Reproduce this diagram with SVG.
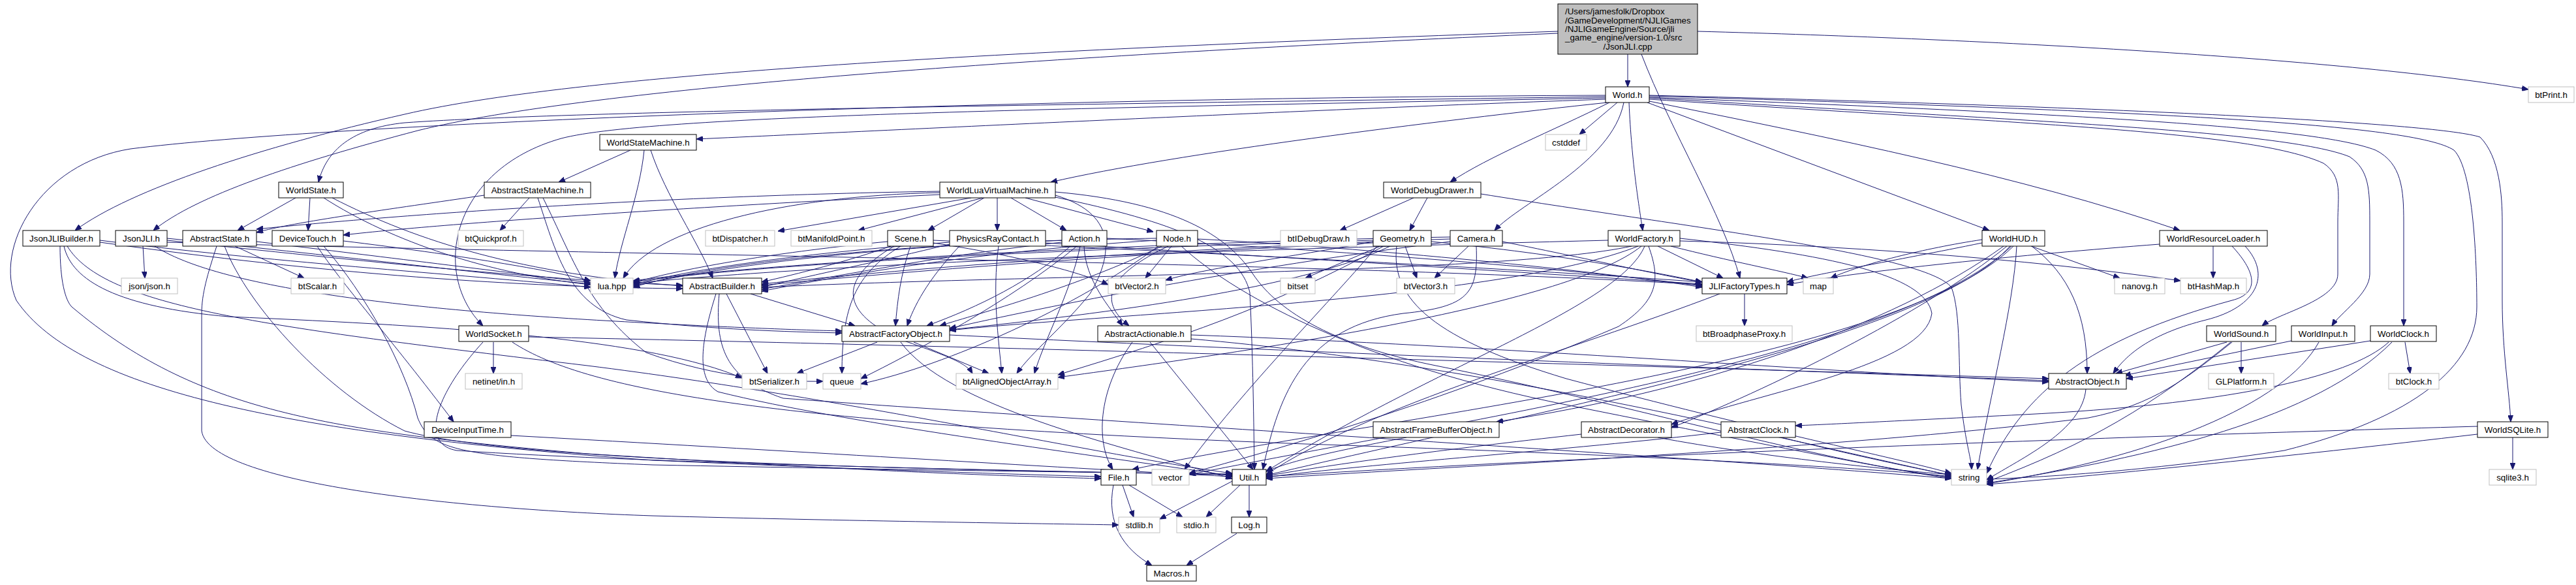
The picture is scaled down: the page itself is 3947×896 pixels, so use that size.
<svg xmlns="http://www.w3.org/2000/svg" width="3947" height="896" viewBox="0 0 3947 896">
<defs>
<style>
.b{fill:#ffffff;stroke:#000000;stroke-width:1}
.g{fill:#ffffff;stroke:#bfbfbf;stroke-width:1}
.top{fill:#bfbfbf;stroke:#000000;stroke-width:1}
text{font-family:"Liberation Sans",Arial,Helvetica,sans-serif;font-size:13.33px;fill:#000000;text-anchor:middle}
.l{text-anchor:start}
#edges path{fill:none;stroke:#191970;stroke-width:1;marker-end:url(#a)}
</style>
<marker id="a" markerWidth="10" markerHeight="8" refX="10" refY="4" orient="auto" markerUnits="userSpaceOnUse"><path d="M0,0 L10,4 L0,8 z" fill="#191970" stroke="#191970"/></marker>
</defs>
<rect x="0" y="0" width="3947" height="896" fill="#ffffff"/>
<g id="edges">
<path d="M2494,83 L2494,133"/>
<path d="M2515,83 C2560,200 2640,330 2666,426"/>
<path d="M2601,48 C3050,60 3600,90 3874,137"/>
<path d="M2387,48 C1600,75 900,110 620,175 C400,225 200,290 115,353"/>
<path d="M2387,51 C1600,85 900,135 640,200 C450,250 300,300 235,353"/>
<path d="M2460,152 C2000,168 1400,198 1067,213"/>
<path d="M2460,148 C1800,158 900,168 620,188 C540,196 500,230 488,279"/>
<path d="M2460,150 C1700,165 1000,175 860,212 C690,260 660,420 740,499"/>
<path d="M2460,146 C1500,150 500,190 200,228 C60,250 -10,380 25,460 C120,600 450,665 1000,705 C1300,718 1500,725 1687,730"/>
<path d="M2463,157 C2200,185 1800,235 1610,279"/>
<path d="M2466,157 C2380,200 2280,240 2222,279"/>
<path d="M2478,157 L2420,206"/>
<path d="M2488,157 C2470,250 2330,310 2290,353"/>
<path d="M2496,157 C2500,250 2512,320 2517,353"/>
<path d="M2524,157 L3048,353"/>
<path d="M2527,155 C2800,210 3100,270 3340,353"/>
<path d="M2527,152 C3100,190 3450,200 3560,250 C3590,270 3582,300 3582,340 L3582,420 C3582,460 3490,480 3466,499"/>
<path d="M2527,150 C3100,185 3500,200 3600,240 C3630,260 3631,290 3631,340 L3631,420 C3631,450 3585,480 3573,499"/>
<path d="M2527,149 C3200,175 3550,195 3640,230 C3680,250 3683,290 3683,340 L3683,499"/>
<path d="M2527,147 C3300,170 3700,190 3760,230 C3790,260 3795,400 3795,470 C3795,560 3700,640 3500,690 C3300,720 3150,730 3044,734"/>
<path d="M2527,146 C3300,165 3740,190 3800,210 C3830,240 3834,300 3834,340 L3834,460 C3834,540 3845,600 3847,646"/>
<path d="M966,230 L856,279"/>
<path d="M987,230 C980,300 950,370 942,426"/>
<path d="M997,230 C1020,300 1070,370 1092,426"/>
<path d="M453,303 L364,353"/>
<path d="M475,303 L472,353"/>
<path d="M496,303 C600,370 750,420 905,436"/>
<path d="M509,303 C640,370 800,420 1046,438"/>
<path d="M742,299 C600,320 450,340 393,356"/>
<path d="M811,303 L766,353"/>
<path d="M824,303 C850,380 870,470 960,490 C1100,505 1200,508 1290,510"/>
<path d="M832,303 C880,400 900,470 990,540 C1100,580 1200,585 1261,584"/>
<path d="M1440,293 C1000,300 600,330 393,351"/>
<path d="M1440,298 C1100,315 700,340 526,360"/>
<path d="M1440,295 C1200,300 1000,350 955,426"/>
<path d="M1488,303 L1192,354"/>
<path d="M1506,303 L1315,353"/>
<path d="M1508,303 L1422,353"/>
<path d="M1528,303 L1528,353"/>
<path d="M1549,303 L1634,353"/>
<path d="M1571,303 L1767,355"/>
<path d="M1617,299 C1720,330 1700,400 1670,450 C1630,500 1580,540 1558,572"/>
<path d="M1617,302 C1800,340 1900,380 1915,448 C1920,550 1921,650 1922,719"/>
<path d="M1617,294 C1800,310 1880,360 1920,420 C1960,480 2050,530 2200,560 C2500,620 2800,710 2990,731"/>
<path d="M153,368 C400,400 700,420 905,440"/>
<path d="M153,371 C500,420 800,440 1046,442"/>
<path d="M92,377 C92,430 100,460 110,470 C300,630 500,660 900,695 C1300,720 1500,728 1687,733"/>
<path d="M98,377 C110,430 180,470 350,485 C700,500 1000,520 1137,579"/>
<path d="M103,377 C160,470 400,500 900,560 C1300,610 1700,700 1888,725"/>
<path d="M219,377 L222,426"/>
<path d="M256,365 C500,390 750,420 905,435"/>
<path d="M256,368 C550,400 850,430 1046,437"/>
<path d="M237,377 C350,450 700,480 1000,495 C1150,503 1250,506 1290,507"/>
<path d="M256,371 C900,390 2000,400 2608,436"/>
<path d="M360,377 L466,426"/>
<path d="M332,377 C318,420 309,450 309,480 L309,660 C320,740 700,780 1000,790 C1300,798 1600,802 1714,804"/>
<path d="M393,370 C600,395 800,420 905,433"/>
<path d="M344,377 C380,470 500,600 620,660 C800,710 1500,720 1888,727"/>
<path d="M486,377 C520,430 600,520 695,646"/>
<path d="M526,369 C700,390 850,415 905,430"/>
<path d="M496,377 C560,450 620,560 640,640 C660,690 700,700 1000,712 C1400,720 1700,724 1888,726"/>
<path d="M2166,303 L2053,353"/>
<path d="M2187,303 L2160,353"/>
<path d="M2269,297 C2600,350 2950,390 2990,440 C3005,480 3000,560 3005,620 C3012,680 3020,700 3021,719"/>
<path d="M2115,377 L2000,426"/>
<path d="M2153,377 L2171,426"/>
<path d="M2104,370 C2000,390 1850,410 1786,429"/>
<path d="M2104,368 C1700,380 1200,400 970,432"/>
<path d="M2104,372 C1700,390 1400,415 1167,437"/>
<path d="M2130,377 C2000,440 1700,480 1455,505"/>
<path d="M2193,370 C2400,390 2550,420 2608,432"/>
<path d="M2120,377 C1950,470 1800,520 1621,574"/>
<path d="M2140,377 C2130,460 2200,520 2400,580 C2700,660 2900,700 2990,725"/>
<path d="M2110,377 C2050,450 1900,600 1815,719"/>
<path d="M2250,377 L2198,426"/>
<path d="M2302,370 C2450,400 2560,425 2608,432"/>
<path d="M2222,363 C1800,370 1200,400 970,430"/>
<path d="M2222,366 C1800,380 1400,410 1167,435"/>
<path d="M2222,370 C1900,410 1600,470 1455,503"/>
<path d="M2262,377 C2265,450 2250,470 2150,480 C2000,500 1960,600 1935,719"/>
<path d="M2540,377 L2640,426"/>
<path d="M2560,377 C2650,400 2730,415 2770,426"/>
<path d="M2464,368 C2000,380 1300,400 970,434"/>
<path d="M2500,377 C2300,420 1600,420 1167,440"/>
<path d="M2510,377 C2300,460 1700,480 1455,506"/>
<path d="M2515,377 C2400,470 1900,540 1621,578"/>
<path d="M2520,377 C2480,470 2200,560 1940,722"/>
<path d="M2526,377 C2545,430 2540,460 2480,500 C2200,620 1950,690 1822,725"/>
<path d="M2574,365 C2800,390 2950,420 2960,480 C2950,560 2700,600 2561,650"/>
<path d="M2574,369 C2800,375 3100,395 3341,430"/>
<path d="M3112,377 L3248,426"/>
<path d="M3037,367 C2950,380 2850,405 2805,426"/>
<path d="M3037,372 C2900,400 2780,420 2738,432"/>
<path d="M3113,377 C3170,420 3198,480 3198,572"/>
<path d="M3070,377 C2900,500 2600,600 2293,646"/>
<path d="M3075,377 C2950,480 2700,600 2561,655"/>
<path d="M3080,377 C2950,520 2400,620 1940,728"/>
<path d="M3085,377 C2900,560 2100,640 1735,719"/>
<path d="M3082,377 C2900,550 2200,650 1822,727"/>
<path d="M3090,377 C3085,470 3050,600 3030,719"/>
<path d="M3391,377 L3391,426"/>
<path d="M3440,377 C3480,420 3460,470 3380,490 C3300,510 3260,540 3238,572"/>
<path d="M3420,377 C3460,420 3460,450 3420,460 C3200,520 3100,600 3044,725"/>
<path d="M3309,374 C3100,390 2850,415 2738,436"/>
<path d="M1360,370 C1200,385 1050,410 970,433"/>
<path d="M1365,377 C1300,400 1220,420 1167,432"/>
<path d="M1395,377 C1380,420 1375,460 1372,499"/>
<path d="M1380,377 C1310,420 1290,470 1290,572"/>
<path d="M1430,368 C1800,385 2300,410 2608,432"/>
<path d="M1430,372 C1550,390 1650,415 1698,436"/>
<path d="M1370,377 C1280,430 1290,480 1380,520 C1450,545 1480,555 1490,572"/>
<path d="M1455,371 C1200,390 1050,415 970,436"/>
<path d="M1455,374 C1350,400 1250,420 1167,440"/>
<path d="M1470,377 C1420,430 1400,470 1390,499"/>
<path d="M1602,372 C1900,390 2300,415 2608,435"/>
<path d="M1530,377 C1520,450 1530,520 1535,572"/>
<path d="M1627,368 C1300,380 1100,410 970,438"/>
<path d="M1627,371 C1450,390 1300,420 1167,443"/>
<path d="M1640,377 C1580,430 1500,470 1420,499"/>
<path d="M1661,377 C1663,430 1700,470 1720,499"/>
<path d="M1696,365 C2000,380 2400,410 2608,438"/>
<path d="M1650,377 C1550,460 1400,540 1319,580"/>
<path d="M1655,377 C1640,450 1600,520 1585,572"/>
<path d="M1795,377 L1755,426"/>
<path d="M1772,365 C1400,370 1100,400 970,440"/>
<path d="M1772,368 C1500,385 1300,420 1167,446"/>
<path d="M1780,377 C1650,440 1500,480 1440,499"/>
<path d="M1790,377 C1700,420 1680,460 1730,499"/>
<path d="M1835,366 C2100,380 2450,415 2608,440"/>
<path d="M1775,377 C1650,470 1450,560 1319,588"/>
<path d="M1810,377 C1900,460 2100,560 2400,620 C2700,680 2900,720 2990,733"/>
<path d="M1113,450 L1176,572"/>
<path d="M1150,450 L1310,499"/>
<path d="M1097,450 C1075,520 1065,580 1100,600 C1300,650 1700,700 1888,729"/>
<path d="M1102,450 C1095,530 1110,580 1200,610 C1600,640 2600,700 2990,733"/>
<path d="M1344,524 L1221,572"/>
<path d="M1400,524 L1515,572"/>
<path d="M1380,524 C1450,620 1700,680 1888,733"/>
<path d="M1455,513 C2000,540 2800,570 3139,583"/>
<path d="M1735,524 C1680,600 1680,680 1705,719"/>
<path d="M1762,524 L1920,719"/>
<path d="M1825,513 C2300,530 2800,570 3139,585"/>
<path d="M1825,519 C2300,560 2800,690 2990,728"/>
<path d="M756,524 L756,572"/>
<path d="M740,524 C670,600 640,680 700,690 C1000,710 1600,722 1888,727"/>
<path d="M785,524 C900,600 1200,650 2000,680 C2600,700 2900,720 2990,730"/>
<path d="M810,516 C1500,530 2500,560 3139,580"/>
<path d="M2673,450 L2673,499"/>
<path d="M2635,450 C2400,540 2100,620 1940,727"/>
<path d="M783,667 C1200,690 1600,715 1888,730"/>
<path d="M3196,596 C3190,660 3100,700 3044,735"/>
<path d="M3412,524 L3242,572"/>
<path d="M3434,524 L3434,572"/>
<path d="M3418,524 C3300,620 3200,680 3044,738"/>
<path d="M3420,524 C3350,580 3300,620 3200,640 C2800,690 2200,715 1940,733"/>
<path d="M3511,522 L3255,575"/>
<path d="M3553,524 C3500,620 3300,700 3044,741"/>
<path d="M3632,522 L3258,580"/>
<path d="M3685,524 L3693,572"/>
<path d="M3665,524 C3550,640 3300,700 3044,740"/>
<path d="M3660,524 C3600,580 3400,620 3100,635 C2900,645 2800,650 2751,652"/>
<path d="M3850,670 L3850,719"/>
<path d="M3796,665 C3500,700 3200,730 3044,742"/>
<path d="M3796,653 C3200,670 2400,700 1940,730"/>
<path d="M2637,662 C2400,690 2100,710 1940,731"/>
<path d="M2730,670 C2850,700 2950,720 2990,728"/>
<path d="M2423,665 C2200,690 2050,710 1940,729"/>
<path d="M2540,670 C2700,700 2900,720 2990,727"/>
<path d="M2155,670 C2050,690 1980,705 1940,722"/>
<path d="M1720,743 L1737,792"/>
<path d="M1730,743 L1812,792"/>
<path d="M1706,743 C1695,800 1720,840 1765,866"/>
<path d="M1888,737 L1777,795"/>
<path d="M1900,743 L1848,792"/>
<path d="M1914,743 L1914,792"/>
<path d="M1895,817 L1818,866"/>
</g>
<g id="n0"><rect class="top" x="2387" y="6" width="214" height="77"/><text class="l" x="2398" y="22">/Users/jamesfolk/Dropbox</text><text class="l" x="2398" y="36">/GameDevelopment/NJLIGames</text><text class="l" x="2398" y="49">/NJLIGameEngine/Source/jli</text><text class="l" x="2398" y="62">_game_engine/version-1.0/src</text><text x="2494" y="76">/JsonJLI.cpp</text></g>
<g id="world"><rect class="b" x="2460" y="133" width="67" height="24"/><text x="2493.5" y="150">World.h</text></g>
<g id="btprint"><rect class="g" x="3874" y="133" width="70" height="24"/><text x="3909" y="150">btPrint.h</text></g>
<g id="worldstatemachine"><rect class="b" x="919" y="206" width="148" height="24"/><text x="993" y="223">WorldStateMachine.h</text></g>
<g id="cstddef"><rect class="g" x="2368" y="206" width="63" height="24"/><text x="2399.5" y="223">cstddef</text></g>
<g id="worldstate"><rect class="b" x="427" y="279" width="99" height="24"/><text x="476.5" y="296">WorldState.h</text></g>
<g id="abstractstatemachine"><rect class="b" x="742" y="279" width="163" height="24"/><text x="823.5" y="296">AbstractStateMachine.h</text></g>
<g id="worldluavm"><rect class="b" x="1440" y="279" width="177" height="24"/><text x="1528.5" y="296">WorldLuaVirtualMachine.h</text></g>
<g id="worlddebugdrawer"><rect class="b" x="2120" y="279" width="149" height="24"/><text x="2194.5" y="296">WorldDebugDrawer.h</text></g>
<g id="jsonjlibuilder"><rect class="b" x="35" y="353" width="118" height="24"/><text x="94" y="370">JsonJLIBuilder.h</text></g>
<g id="jsonjli"><rect class="b" x="177" y="353" width="79" height="24"/><text x="216.5" y="370">JsonJLI.h</text></g>
<g id="abstractstate"><rect class="b" x="280" y="353" width="113" height="24"/><text x="336.5" y="370">AbstractState.h</text></g>
<g id="devicetouch"><rect class="b" x="417" y="353" width="109" height="24"/><text x="471.5" y="370">DeviceTouch.h</text></g>
<g id="btquickprof"><rect class="g" x="702" y="353" width="100" height="24"/><text x="752" y="370">btQuickprof.h</text></g>
<g id="btdispatcher"><rect class="g" x="1081" y="353" width="106" height="24"/><text x="1134" y="370">btDispatcher.h</text></g>
<g id="btmanifoldpoint"><rect class="g" x="1212" y="353" width="124" height="24"/><text x="1274" y="370">btManifoldPoint.h</text></g>
<g id="scene"><rect class="b" x="1360" y="353" width="70" height="24"/><text x="1395" y="370">Scene.h</text></g>
<g id="physicsraycontact"><rect class="b" x="1455" y="353" width="147" height="24"/><text x="1528.5" y="370">PhysicsRayContact.h</text></g>
<g id="action"><rect class="b" x="1627" y="353" width="69" height="24"/><text x="1661.5" y="370">Action.h</text></g>
<g id="node"><rect class="b" x="1772" y="353" width="63" height="24"/><text x="1803.5" y="370">Node.h</text></g>
<g id="btidebugdraw"><rect class="g" x="1962" y="353" width="117" height="24"/><text x="2020.5" y="370">btIDebugDraw.h</text></g>
<g id="geometry"><rect class="b" x="2104" y="353" width="89" height="24"/><text x="2148.5" y="370">Geometry.h</text></g>
<g id="camera"><rect class="b" x="2222" y="353" width="80" height="24"/><text x="2262" y="370">Camera.h</text></g>
<g id="worldfactory"><rect class="b" x="2464" y="353" width="110" height="24"/><text x="2519" y="370">WorldFactory.h</text></g>
<g id="worldhud"><rect class="b" x="3037" y="353" width="96" height="24"/><text x="3085" y="370">WorldHUD.h</text></g>
<g id="worldresourceloader"><rect class="b" x="3309" y="353" width="165" height="24"/><text x="3391.5" y="370">WorldResourceLoader.h</text></g>
<g id="jsonjson"><rect class="g" x="186" y="426" width="86" height="24"/><text x="229" y="443">json/json.h</text></g>
<g id="btscalar"><rect class="g" x="446" y="426" width="81" height="24"/><text x="486.5" y="443">btScalar.h</text></g>
<g id="luahpp"><rect class="g" x="905" y="426" width="65" height="24"/><text x="937.5" y="443">lua.hpp</text></g>
<g id="abstractbuilder"><rect class="b" x="1046" y="426" width="121" height="24"/><text x="1106.5" y="443">AbstractBuilder.h</text></g>
<g id="btvector2"><rect class="g" x="1698" y="426" width="88" height="24"/><text x="1742" y="443">btVector2.h</text></g>
<g id="bitset"><rect class="g" x="1962" y="426" width="53" height="24"/><text x="1988.5" y="443">bitset</text></g>
<g id="btvector3"><rect class="g" x="2140" y="426" width="89" height="24"/><text x="2184.5" y="443">btVector3.h</text></g>
<g id="jlifactorytypes"><rect class="b" x="2608" y="426" width="130" height="24"/><text x="2673" y="443">JLIFactoryTypes.h</text></g>
<g id="map"><rect class="g" x="2763" y="426" width="46" height="24"/><text x="2786" y="443">map</text></g>
<g id="nanovg"><rect class="g" x="3240" y="426" width="77" height="24"/><text x="3278.5" y="443">nanovg.h</text></g>
<g id="bthashmap"><rect class="g" x="3341" y="426" width="101" height="24"/><text x="3391.5" y="443">btHashMap.h</text></g>
<g id="worldsocket"><rect class="b" x="703" y="499" width="107" height="24"/><text x="756.5" y="516">WorldSocket.h</text></g>
<g id="abstractfactoryobject"><rect class="b" x="1290" y="499" width="165" height="24"/><text x="1372.5" y="516">AbstractFactoryObject.h</text></g>
<g id="abstractactionable"><rect class="b" x="1682" y="499" width="143" height="24"/><text x="1753.5" y="516">AbstractActionable.h</text></g>
<g id="btbroadphaseproxy"><rect class="g" x="2599" y="499" width="147" height="24"/><text x="2672.5" y="516">btBroadphaseProxy.h</text></g>
<g id="worldsound"><rect class="b" x="3381" y="499" width="106" height="24"/><text x="3434" y="516">WorldSound.h</text></g>
<g id="worldinput"><rect class="b" x="3511" y="499" width="97" height="24"/><text x="3559.5" y="516">WorldInput.h</text></g>
<g id="worldclock"><rect class="b" x="3632" y="499" width="101" height="24"/><text x="3682.5" y="516">WorldClock.h</text></g>
<g id="netinet"><rect class="g" x="713" y="572" width="87" height="24"/><text x="756.5" y="589">netinet/in.h</text></g>
<g id="btserializer"><rect class="g" x="1137" y="572" width="99" height="24"/><text x="1186.5" y="589">btSerializer.h</text></g>
<g id="queue"><rect class="g" x="1261" y="572" width="58" height="24"/><text x="1290" y="589">queue</text></g>
<g id="btalignedobjectarray"><rect class="g" x="1465" y="572" width="156" height="24"/><text x="1543" y="589">btAlignedObjectArray.h</text></g>
<g id="abstractobject"><rect class="b" x="3139" y="572" width="119" height="24"/><text x="3198.5" y="589">AbstractObject.h</text></g>
<g id="glplatform"><rect class="g" x="3384" y="572" width="100" height="24"/><text x="3434" y="589">GLPlatform.h</text></g>
<g id="btclock"><rect class="g" x="3660" y="572" width="77" height="24"/><text x="3698.5" y="589">btClock.h</text></g>
<g id="deviceinputtime"><rect class="b" x="650" y="646" width="133" height="24"/><text x="716.5" y="663">DeviceInputTime.h</text></g>
<g id="abstractframebufferobject"><rect class="b" x="2104" y="646" width="193" height="24"/><text x="2200.5" y="663">AbstractFrameBufferObject.h</text></g>
<g id="abstractdecorator"><rect class="b" x="2423" y="646" width="138" height="24"/><text x="2492" y="663">AbstractDecorator.h</text></g>
<g id="abstractclock"><rect class="b" x="2637" y="646" width="114" height="24"/><text x="2694" y="663">AbstractClock.h</text></g>
<g id="worldsqlite"><rect class="b" x="3796" y="646" width="108" height="24"/><text x="3850" y="663">WorldSQLite.h</text></g>
<g id="file"><rect class="b" x="1687" y="719" width="54" height="24"/><text x="1714" y="736">File.h</text></g>
<g id="vector"><rect class="g" x="1765" y="719" width="57" height="24"/><text x="1793.5" y="736">vector</text></g>
<g id="util"><rect class="b" x="1888" y="719" width="52" height="24"/><text x="1914" y="736">Util.h</text></g>
<g id="string"><rect class="g" x="2990" y="719" width="54" height="24"/><text x="3017" y="736">string</text></g>
<g id="sqlite3"><rect class="g" x="3814" y="719" width="72" height="24"/><text x="3850" y="736">sqlite3.h</text></g>
<g id="stdlib"><rect class="g" x="1714" y="792" width="63" height="24"/><text x="1745.5" y="809">stdlib.h</text></g>
<g id="stdio"><rect class="g" x="1803" y="792" width="60" height="24"/><text x="1833" y="809">stdio.h</text></g>
<g id="log"><rect class="b" x="1887" y="792" width="54" height="24"/><text x="1914" y="809">Log.h</text></g>
<g id="macros"><rect class="b" x="1757" y="866" width="76" height="24"/><text x="1795" y="883">Macros.h</text></g>
</svg>
